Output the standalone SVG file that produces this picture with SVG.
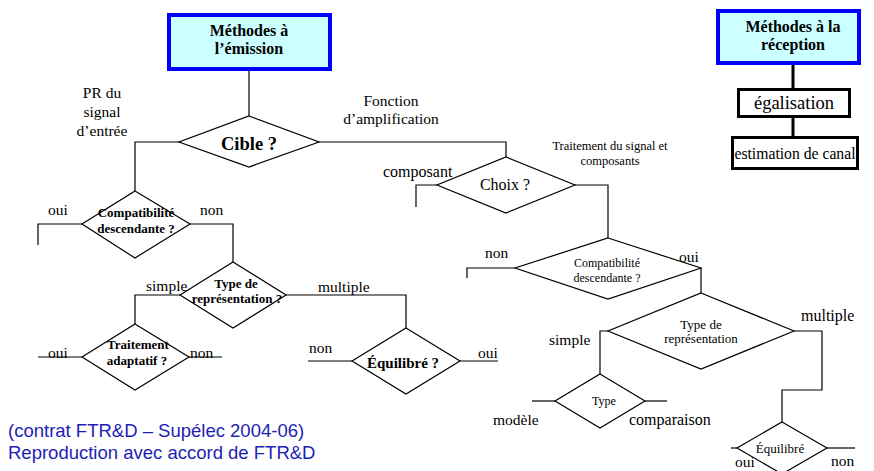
<svg xmlns="http://www.w3.org/2000/svg" width="874" height="471" viewBox="0 0 874 471">
  <style>
    .dia { fill: none; stroke: #000; stroke-width: 1.2; }
    .con { fill: none; stroke: #000; stroke-width: 1.2; }
    .t { font-family: "Liberation Serif", "Times New Roman", serif; fill: #000; }
    .b { font-weight: bold; }
    .m { text-anchor: middle; }
    .lbl { font-size: 15.5px; }
    .head { fill: #ccffff; stroke: #0000ff; stroke-width: 4; }
    .box { fill: #fff; stroke: #000; stroke-width: 3; }
    .link { fill: none; stroke: #000; stroke-width: 3; }
    .note { font-family: "Liberation Sans", Arial, sans-serif; font-size: 18.5px; fill: #1e1eb4; }
  </style>
  <rect width="874" height="471" fill="#fff"/>

  <!-- connectors and their labels -->
  <g id="connectors">
    <polyline class="con" points="249,69 249,116"/>
    <polyline class="con" points="179,142 135,142 135,191"/>
    <polyline class="con" points="82,224 38,224 38,245"/>
    <polyline class="con" points="190,224 233,224 233,262"/>
    <polyline class="con" points="180,295 135,295 135,324"/>
    <polyline class="con" points="38,357 82,357"/>
    <polyline class="con" points="189,357 222,357"/>
    <polyline class="con" points="286,295 406,295 406,328"/>
    <polyline class="con" points="308,361 352,361"/>
    <polyline class="con" points="460,361 498,361"/>
    <polyline class="con" points="319,142 506,142 506,157"/>
    <polyline class="con" points="437,185 416,185 416,207"/>
    <polyline class="con" points="575,185 608,185 608,238"/>
    <polyline class="con" points="515,268 467,268 467,278"/>
    <polyline class="con" points="701,268 701,293"/>
    <polyline class="con" points="608,331 600,331 600,374"/>
    <polyline class="con" points="532,401 555,401"/>
    <polyline class="con" points="645,401 667,401"/>
    <polyline class="con" points="794,331 822,331 822,390 782,390 782,422"/>
    <polyline class="con" points="731,448 737,448"/>
    <polyline class="con" points="827,448 855,448"/>

    <text class="t lbl m" x="102" y="98">PR du</text>
    <text class="t lbl m" x="102" y="117">signal</text>
    <text class="t lbl m" x="102" y="136">d’entrée</text>
    <text class="t lbl m" x="391" y="106">Fonction</text>
    <text class="t lbl m" x="391" y="124">d’amplification</text>
    <text class="t lbl" x="48" y="215">oui</text>
    <text class="t lbl" x="200" y="215">non</text>
    <text class="t lbl" x="146" y="291">simple</text>
    <text class="t lbl" x="318" y="292">multiple</text>
    <text class="t lbl" x="48" y="358">oui</text>
    <text class="t lbl" x="190" y="358">non</text>
    <text class="t lbl" x="309" y="353">non</text>
    <text class="t lbl" x="478" y="358">oui</text>
    <text class="t" x="383" y="177" font-size="16">composant</text>
    <text class="t m" x="610" y="150" font-size="12.5">Traitement du signal et</text>
    <text class="t m" x="610" y="165" font-size="12.5">composants</text>
    <text class="t lbl" x="485" y="258">non</text>
    <text class="t lbl" x="679" y="262">oui</text>
    <text class="t" x="801" y="321" font-size="16">multiple</text>
    <text class="t lbl" x="549" y="345">simple</text>
    <text class="t lbl" x="493" y="425">modèle</text>
    <text class="t" x="629" y="425" font-size="16">comparaison</text>
    <text class="t lbl" x="831" y="466">non</text>
    <text class="t lbl" x="735" y="467">oui</text>
  </g>

  <!-- transmitter-side methods -->
  <g id="emission">
    <rect class="head" x="169" y="15" width="161" height="54"/>
    <text class="t b m" x="249" y="36" font-size="16">Méthodes à</text>
    <text class="t b m" x="249" y="54" font-size="16">l’émission</text>
  </g>

  <g id="cible">
    <polygon class="dia" points="249,116 319,142 249,167 179,142"/>
    <text class="t b m" x="249" y="150" font-size="18.5">Cible ?</text>
  </g>

  <g id="compat-left">
    <polygon class="dia" points="135,191 190,224 135,258 82,224"/>
    <text class="t b m" x="136" y="217" font-size="13">Compatibilité</text>
    <text class="t b m" x="136" y="233" font-size="13">descendante ?</text>
  </g>

  <g id="type-left">
    <polygon class="dia" points="233,262 286,295 233,328 180,295"/>
    <text class="t b m" x="236" y="288" font-size="13">Type de</text>
    <text class="t b m" x="237" y="303" font-size="13">représentation ?</text>
  </g>

  <g id="traitement">
    <polygon class="dia" points="135,324 189,357 135,390 82,357"/>
    <text class="t b m" x="138" y="349" font-size="13">Traitement</text>
    <text class="t b m" x="137" y="365" font-size="13">adaptatif ?</text>
  </g>

  <g id="equilibre-left">
    <polygon class="dia" points="406,328 460,361 406,394 352,361"/>
    <text class="t b m" x="403" y="368" font-size="15">Équilibré ?</text>
  </g>

  <g id="choix">
    <polygon class="dia" points="506,157 575,185 506,213 437,185"/>
    <text class="t m" x="505" y="190" font-size="16">Choix ?</text>
  </g>

  <g id="compat-right">
    <polygon class="dia" points="608,238 701,268 608,299 515,268"/>
    <text class="t m" x="607" y="267" font-size="12">Compatibilité</text>
    <text class="t m" x="607" y="282" font-size="12">descendante ?</text>
  </g>

  <g id="type-right">
    <polygon class="dia" points="701,293 794,331 701,369 608,331"/>
    <text class="t m" x="701" y="329" font-size="13">Type de</text>
    <text class="t m" x="701" y="343" font-size="13">représentation</text>
  </g>

  <g id="type-small">
    <polygon class="dia" points="600,374 645,401 600,428 555,401"/>
    <text class="t m" x="604" y="405" font-size="12">Type</text>
  </g>

  <g id="equilibre-right">
    <polygon class="dia" points="782,422 827,448 782,474 737,448"/>
    <text class="t m" x="780" y="453" font-size="13">Équilibré</text>
  </g>

  <!-- receiver-side methods -->
  <g id="reception">
    <rect class="head" x="718" y="11" width="141" height="52"/>
    <text class="t b m" x="793" y="32" font-size="16">Méthodes à la</text>
    <text class="t b m" x="793" y="50" font-size="16">réception</text>
  </g>
  <g id="links">
    <line class="link" x1="793" y1="65" x2="793" y2="88"/>
    <line class="link" x1="793" y1="118" x2="793" y2="136"/>
  </g>
  <g id="egalisation">
    <rect class="box" x="738.5" y="89.5" width="111" height="27"/>
    <text class="t m" x="794" y="109" font-size="18.5">égalisation</text>
  </g>
  <g id="estimation">
    <rect class="box" x="732.5" y="137.5" width="125" height="31"/>
    <text class="t m" x="795" y="159" font-size="15.7">estimation de canal</text>
  </g>

  <!-- credit line -->
  <g id="credit">
    <text class="note" x="8" y="437">(contrat FTR&amp;D – Supélec 2004-06)</text>
    <text class="note" x="8" y="459">Reproduction avec accord de FTR&amp;D</text>
  </g>
</svg>
